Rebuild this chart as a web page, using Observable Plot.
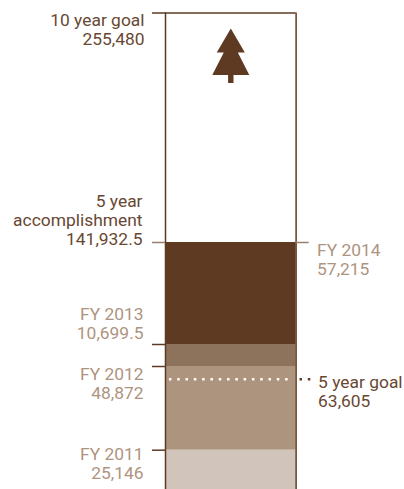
<!DOCTYPE html>
<html>
<head>
<meta charset="utf-8">
<script src="https://cdn.jsdelivr.net/npm/d3@7"></script>
<script src="https://cdn.jsdelivr.net/npm/@observablehq/plot@0.6"></script>
<style>
  html, body { margin: 0; padding: 0; background: #fff; }
  svg { display: block; }
</style>
</head>
<body>
<div id="chart"></div>
<script>
// Cumulative tree-planting thermometer: yearly segments stacked toward a ten-year goal.
const years = ["FY 2011", "FY 2012", "FY 2013", "FY 2014"];
const yearValues = [25146, 48872, 10699.5, 57215];
const yearLabels = ["25,146", "48,872", "10,699.5", "57,215"];
const yearColors = ["#d1c4ba", "#ad947f", "#8e735c", "#5f3a22"];
const tenYearGoal = 255480;
const fiveYearGoal = 63605;
const fiveYearTotal = 141932.5;

const dark = "#5f3a22";
const darkText = "#684733";
const tan = "#ad947f";
const tickTan = "#9a7f6c";
const font = "Roboto, sans-serif";

// Running totals give each segment its lower and upper bound.
const tops = d3.cumsum(yearValues);
const segments = years.map((year, i) => ({
  year,
  label: yearLabels[i],
  color: yearColors[i],
  y1: i ? tops[i - 1] : 0,
  y2: tops[i]
}));

// The column's milestones are spaced unevenly, so values pass through a piecewise ramp first.
const milestones = [0, tops[0], fiveYearGoal, tops[1], tops[2], tops[3], tenYearGoal];
const milestoneHeights = [489, 449.7, 378.7, 366, 344, 242, 12.5];
const ramp = d3.scaleLinear().domain(milestones).range(milestoneHeights);

// Tree icon drawn as a dot symbol, in units of its radius.
const treeSymbol = {
  draw(context, size) {
    const r = Math.sqrt(size / Math.PI);
    const outline = [
      [0, -1], [0.52, -0.11], [0.26, -0.11], [0.685, 0.72],
      [0.1, 0.72], [0.1, 1.02], [-0.1, 1.02], [-0.1, 0.72],
      [-0.685, 0.72], [-0.26, -0.11], [-0.52, -0.11]
    ];
    outline.forEach(([px, py], i) => {
      if (i) context.lineTo(px * r, py * r);
      else context.moveTo(px * r, py * r);
    });
    context.closePath();
  }
};

const labelOptions = {fontFamily: font, fontSize: 17.4, lineHeight: 1.1};

// Year captions sit at different distances from their ticks.
const captionShifts = [13.3, 17, -21.5];
const yearCaptions = segments.slice(0, 3).map((d, i) =>
  Plot.text([d], {
    x: 0,
    y: "y2",
    text: (s) => `${s.year}\n${s.label}`,
    dx: -22,
    dy: captionShifts[i],
    textAnchor: "end",
    fill: tan,
    ...labelOptions
  })
);

const chart = Plot.plot({
  width: 404,
  height: 489,
  marginTop: 0,
  marginRight: 0,
  marginBottom: 0,
  marginLeft: 0,
  style: {background: "#fff"},
  x: {domain: [0, 1], range: [165, 295.6], axis: null},
  y: {transform: (v) => ramp(v), domain: [0, 489], range: [0, 489], axis: null},
  marks: [
    // Stacked yearly segments
    Plot.rect(segments, {x1: 0, x2: 1, y1: "y1", y2: "y2", fill: "color"}),
    // Column outline
    Plot.ruleX([0, 1], {y1: 0, y2: tenYearGoal, stroke: dark, strokeWidth: 1.5}),
    Plot.ruleY([tenYearGoal], {x1: -0.1, x2: 1, stroke: dark, strokeWidth: 1.5}),
    // Milestone ticks
    Plot.ruleY([tops[0], tops[1], tops[2]], {x1: -0.1, x2: 0, stroke: dark, strokeWidth: 1.5}),
    Plot.ruleY([fiveYearTotal], {x1: -0.1, x2: 0, stroke: tickTan, strokeWidth: 1.5}),
    Plot.ruleY([fiveYearTotal], {x1: 1, x2: 1.1, stroke: tickTan, strokeWidth: 1.5}),
    // Five-year goal marker
    Plot.ruleY([fiveYearGoal], {x1: 0.03, x2: 0.98, stroke: "#fff", strokeWidth: 2.5, strokeDasharray: "2.5 5.8"}),
    Plot.ruleY([fiveYearGoal], {x1: 1.03, x2: 1.12, stroke: dark, strokeWidth: 2.5, strokeDasharray: "2.5 5.8"}),
    // Tree icon
    Plot.dot([tenYearGoal], {x: 0.5, y: tenYearGoal, dy: 42.5, r: 27, symbol: treeSymbol, fill: dark, stroke: "none"}),
    // Left-hand labels
    Plot.text([`10 year goal\n255,480`], {
      x: 0, y: [tenYearGoal], dx: -21, dy: 16.5, textAnchor: "end", fill: darkText, ...labelOptions
    }),
    Plot.text([`5 year\naccomplishment\n141,932.5`], {
      x: 0, y: [fiveYearTotal], dx: -23, dy: -22.5, textAnchor: "end", fill: darkText, ...labelOptions
    }),
    ...yearCaptions,
    // Right-hand labels
    Plot.text(segments.slice(3), {
      x: 1,
      y: "y2",
      text: (d) => `${d.year}\n${d.label}`,
      dx: 21,
      dy: 16.5,
      textAnchor: "start",
      fill: tan,
      ...labelOptions
    }),
    Plot.text([`5 year goal\n63,605`], {
      x: 1, y: [fiveYearGoal], dx: 22, dy: 12.2, textAnchor: "start", fill: darkText, ...labelOptions
    })
  ]
});

document.getElementById("chart").appendChild(chart);
</script>
</body>
</html>
